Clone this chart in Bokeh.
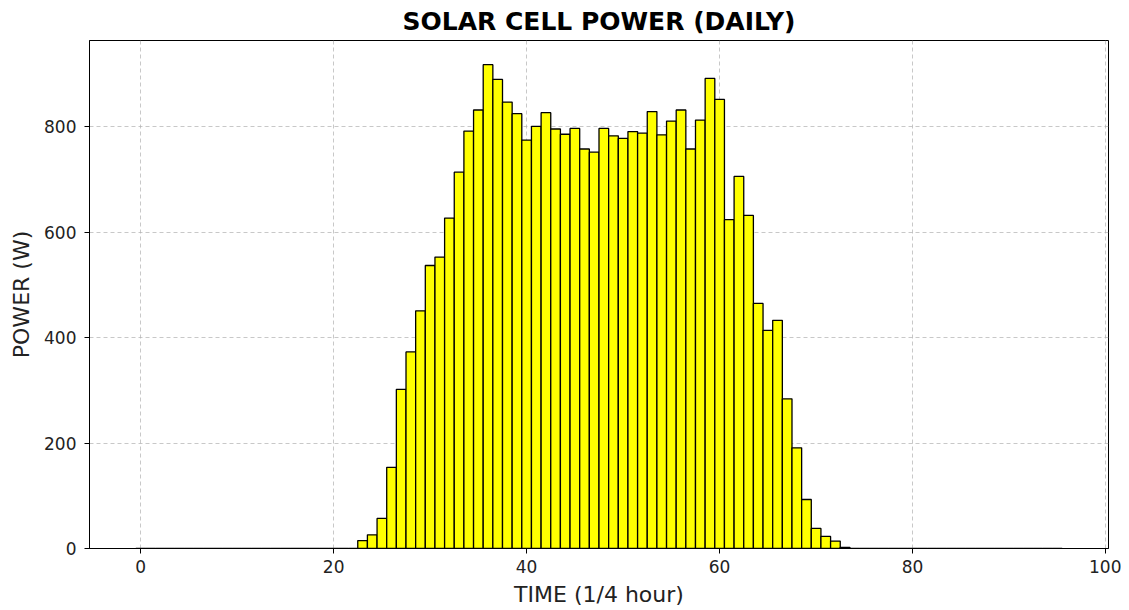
from bokeh.plotting import figure
from bokeh.models import Range1d, ColumnDataSource, FixedTicker
from bokeh.embed import file_html
from bokeh.resources import INLINE

# Time slots (quarter hours) and measured power (W)
slots = list(range(96))
power = ([0] * 23 +
         [15, 26, 57, 154, 302, 373, 451, 537, 553, 627,
          714, 792, 832, 918, 890, 847, 825, 775, 801, 827,
          796, 786, 797, 758, 752, 797, 783, 778, 791, 788,
          829, 785, 811, 832, 758, 813, 892, 852, 624, 706,
          632, 465, 414, 433, 284, 191, 93, 38, 23, 14, 2] +
         [0] * 22)

x_ticks = [0, 20, 40, 60, 80, 100]
y_ticks = [0, 200, 400, 600, 800]

FONT = "DejaVu Sans"

p = figure(width=1121, height=609, output_backend="svg", toolbar_location=None,
           x_range=Range1d(-5.3, 100.3), y_range=Range1d(0, 963.9),
           min_border_left=89, min_border_right=13, min_border_top=39, min_border_bottom=60)

src = ColumnDataSource(dict(x=slots, top=power))
p.vbar(x="x", top="top", width=1, bottom=0, source=src,
       fill_color="#ffff00", line_color="black", line_width=1.3)

p.title.text = "SOLAR CELL POWER (DAILY)"
p.title.align = "center"
p.title.text_font = FONT
p.title.text_font_size = "25px"
p.title.text_font_style = "bold"
p.title.text_color = "black"
p.title.offset = 0
p.title.standoff = 9

p.xaxis.axis_label = "TIME (1/4 hour)"
p.yaxis.axis_label = "POWER (W)"
for ax in (p.xaxis[0], p.yaxis[0]):
    ax.axis_label_text_font = FONT
    ax.axis_label_text_font_size = "22px"
    ax.axis_label_text_font_style = "normal"
    ax.axis_label_text_color = "#222222"
    ax.major_label_text_font = FONT
    ax.major_label_text_font_size = "17px"
    ax.major_label_text_color = "#222222"
    ax.axis_line_color = "black"
    ax.major_tick_line_color = "black"
    ax.major_tick_out = 5
    ax.major_tick_in = 0
    ax.minor_tick_line_color = None

p.xaxis[0].major_label_standoff = 6
p.xaxis[0].axis_label_standoff = 6
p.yaxis[0].major_label_standoff = 8
p.yaxis[0].axis_label_standoff = 7

p.xaxis[0].ticker = FixedTicker(ticks=x_ticks)
p.yaxis[0].ticker = FixedTicker(ticks=y_ticks)

for g in (p.xgrid[0], p.ygrid[0]):
    g.grid_line_color = "#b0b0b0"
    g.grid_line_dash = "4 3"
    g.grid_line_alpha = 0.7
    g.grid_line_width = 1

p.outline_line_color = "black"
p.outline_line_width = 1
p.outline_line_alpha = 1
p.background_fill_color = "white"
p.border_fill_color = "white"

open("out.html", "w").write(file_html(p, INLINE))
